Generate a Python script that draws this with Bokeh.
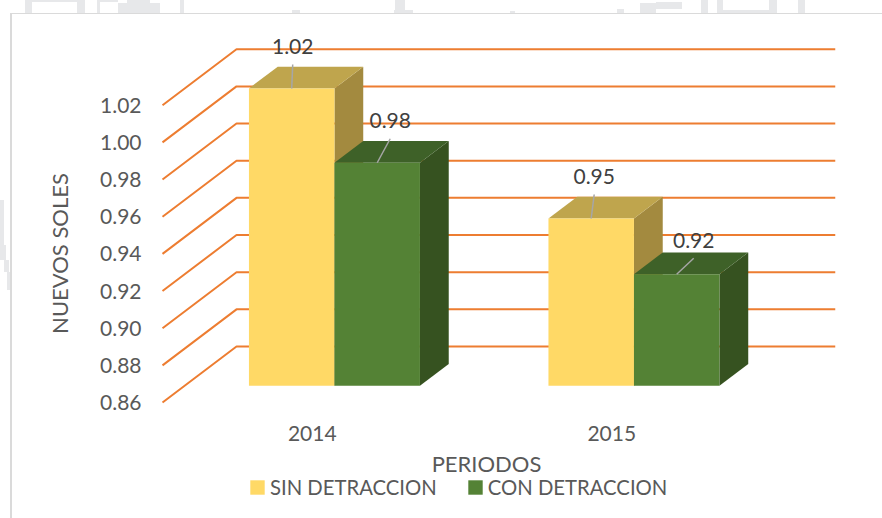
from bokeh.plotting import figure
from bokeh.models import Range1d, FixedTicker, Legend, LegendItem, ColumnDataSource
from bokeh.core.properties import value
from bokeh.embed import file_html
from bokeh.resources import INLINE

# data
categories = ["2014", "2015"]
sin_detraccion = [1.02, 0.95]
con_detraccion = [0.98, 0.92]
y_ticks = [0.86, 0.88, 0.90, 0.92, 0.94, 0.96, 0.98, 1.00, 1.02]
series_names = ["SIN DETRACCION", "CON DETRACCION"]

# style / layout
FONT = "Lato"
GRID = "#ED7D31"
TXT = "#595959"
YELLOW = ("#FFD966", "#BFA54D", "#A38A3F")
GREEN = ("#548235", "#3E6128", "#365220")

W, H = 882, 518
FRAME_L, FRAME_R, FRAME_T, FRAME_B = 137, 835, 1, 505   # plot frame on the page
ORIGIN_X, ORIGIN_Y = 162, 402                            # where x=0 and y=0.86 lie
PX_X = 299.5          # pixels per category
PX_Y = 1858.0         # pixels per unit
y_base = y_ticks[0]
x_start = (FRAME_L - ORIGIN_X) / PX_X
x_end = (FRAME_R - ORIGIN_X) / PX_X
y_start = y_base - (FRAME_B - ORIGIN_Y) / PX_Y
y_end = y_base + (ORIGIN_Y - FRAME_T) / PX_Y

DX, DY = 74 / PX_X, 56 / PX_Y    # full depth of the floor
D0, D1 = 0.30, 0.689             # bar depth span
BW = 85.5 / PX_X

p = figure(width=W, height=H, output_backend="svg", toolbar_location=None,
           x_range=Range1d(x_start, x_end), y_range=Range1d(y_start, y_end),
           min_border_left=FRAME_L, min_border_right=W - FRAME_R,
           min_border_top=FRAME_T, min_border_bottom=H - FRAME_B)
p.outline_line_color = None
p.grid.visible = False
p.border_fill_alpha = 0
p.background_fill_alpha = 0

# chart border and faint page watermark, painted behind the transparent canvas
WM = "#E7E8EA"
EDGE = "#DADADA"
wm_boxes = [(25, 0, 32, 13), (32, 0, 77, 2), (77, 0, 85, 13), (97, 0, 100, 13), (100, 0, 118, 2),
            (118, 3, 160, 13), (127, 0, 150, 3), (180, 0, 184, 13), (292, 10, 300, 13),
            (395, 0, 405, 13), (394, 10, 413, 13), (510, 11, 515, 13), (617, 9, 624, 13),
            (640, 3, 656, 13), (656, 2, 682, 9), (701, 0, 708, 13), (717, 0, 723, 13),
            (723, 10, 770, 13), (769, 0, 777, 13), (798, 0, 805, 13),
            (0, 200, 4, 245), (0, 245, 6, 260), (4, 260, 9, 272), (7, 272, 10, 290)]
layers = [(EDGE, 10, 13, 2, H - 13), (EDGE, 10, 13, W - 10, 1)]
layers += [(WM, x0, y0, x1 - x0, y1 - y0) for x0, y0, x1, y1 in wm_boxes]
p.styles = {
    "background-image": ", ".join(f"linear-gradient({c},{c})" for c, *_ in layers),
    "background-position": ", ".join(f"{x}px {y}px" for _, x, y, _w, _h in layers),
    "background-size": ", ".join(f"{w}px {h}px" for *_, w, h in layers),
    "background-repeat": "no-repeat",
}

# axes
p.yaxis.ticker = FixedTicker(ticks=y_ticks)
p.yaxis.major_label_overrides = {t: f"{t:.2f}" for t in y_ticks}
p.yaxis.axis_line_color = None
p.yaxis.major_tick_line_color = None
p.yaxis.minor_tick_line_color = None
p.yaxis.major_tick_out = 0
p.yaxis.major_label_standoff = -4
p.yaxis.major_label_text_font = FONT
p.yaxis.major_label_text_font_size = "21px"
p.yaxis.major_label_text_color = TXT
p.yaxis.axis_label = "NUEVOS SOLES"
p.yaxis.axis_label_text_font = FONT
p.yaxis.axis_label_text_font_style = "normal"
p.yaxis.axis_label_text_font_size = "22px"
p.yaxis.axis_label_text_color = TXT
p.yaxis.axis_label_standoff = 24

p.xaxis.fixed_location = y_base
p.xaxis.ticker = FixedTicker(ticks=[i + 0.5 for i in range(len(categories))])
p.xaxis.major_label_overrides = {i + 0.5: c for i, c in enumerate(categories)}
p.xaxis.axis_line_color = None
p.xaxis.major_tick_line_color = None
p.xaxis.minor_tick_line_color = None
p.xaxis.major_label_standoff = 17
p.xaxis.major_label_text_font = FONT
p.xaxis.major_label_text_font_size = "21px"
p.xaxis.major_label_text_color = TXT
p.xaxis.axis_label = "PERIODOS"
p.xaxis.axis_label_text_font = FONT
p.xaxis.axis_label_text_font_style = "normal"
p.xaxis.axis_label_text_font_size = "22px"
p.xaxis.axis_label_text_color = TXT
p.xaxis.axis_label_standoff = 6

# oblique gridlines
p.multi_line([[0, DX, x_end] for _ in y_ticks],
             [[t, t + DY, t + DY] for t in y_ticks],
             line_color=GRID, line_width=2)

# bars, each as front / top / side faces
renderers = []
label_rows = []
leader_px = [(1, -24), (13, -24), (3, -24), (17, -16)]
dx = (D1 - D0) * DX
dy = (D1 - D0) * DY
yb = y_base + D0 * DY
for s, (vals, cols) in enumerate(((sin_detraccion, YELLOW), (con_detraccion, GREEN))):
    fx, fy, tx, ty, sx, sy = [], [], [], [], [], []
    for c, v in enumerate(vals):
        mid = c + 0.5 + D0 * DX + (2 * s - 1) * BW / 2
        xl, xr = mid - BW / 2, mid + BW / 2
        yt = v + D0 * DY
        fx.append([xl, xr, xr, xl]); fy.append([yb, yb, yt, yt])
        tx.append([xl, xr, xr + dx, xl + dx]); ty.append([yt, yt, yt + dy, yt + dy])
        sx.append([xr, xr + dx, xr + dx, xr]); sy.append([yb, yb + dy, yt + dy, yt])
        label_rows.append((c, s, mid, yt, v))
    p.patches(sx, sy, fill_color=cols[2], line_color=None)
    p.patches(tx, ty, fill_color=cols[1], line_color=None)
    renderers.append(p.patches(fx, fy, fill_color=cols[0], line_color=None))

# data labels with leader lines
label_rows.sort(key=lambda r: (r[0], r[1]))
lx, ly, lx1, ly1, txt = [], [], [], [], []
for (c, s, mid, yt, v), (ox, oy) in zip(label_rows, leader_px):
    lx.append(mid); ly.append(yt)
    lx1.append(mid + ox / PX_X); ly1.append(yt - oy / PX_Y)
    txt.append(f"{v:.2f}")
p.segment(lx, ly, lx1, ly1, line_color="#A6A6A6", line_width=1.5)
src = ColumnDataSource(dict(x=lx1, y=ly1, text=txt))
p.text("x", "y", text="text", source=src, x_offset=0, y_offset=-18,
       text_font=value(FONT), text_font_size="21px", text_color="#404040",
       text_align="center", text_baseline="middle")

# legend
legend = Legend(items=[LegendItem(label=n, renderers=[r]) for n, r in zip(series_names, renderers)],
                orientation="horizontal", location=(111, 6),
                border_line_color=None, background_fill_alpha=0,
                label_text_font=FONT, label_text_font_size="20.3px", label_text_color=TXT,
                glyph_width=18, glyph_height=18, spacing=29, label_standoff=4,
                margin=0, padding=0)
p.add_layout(legend, "center")

open("out.html", "w").write(file_html(p, INLINE))
